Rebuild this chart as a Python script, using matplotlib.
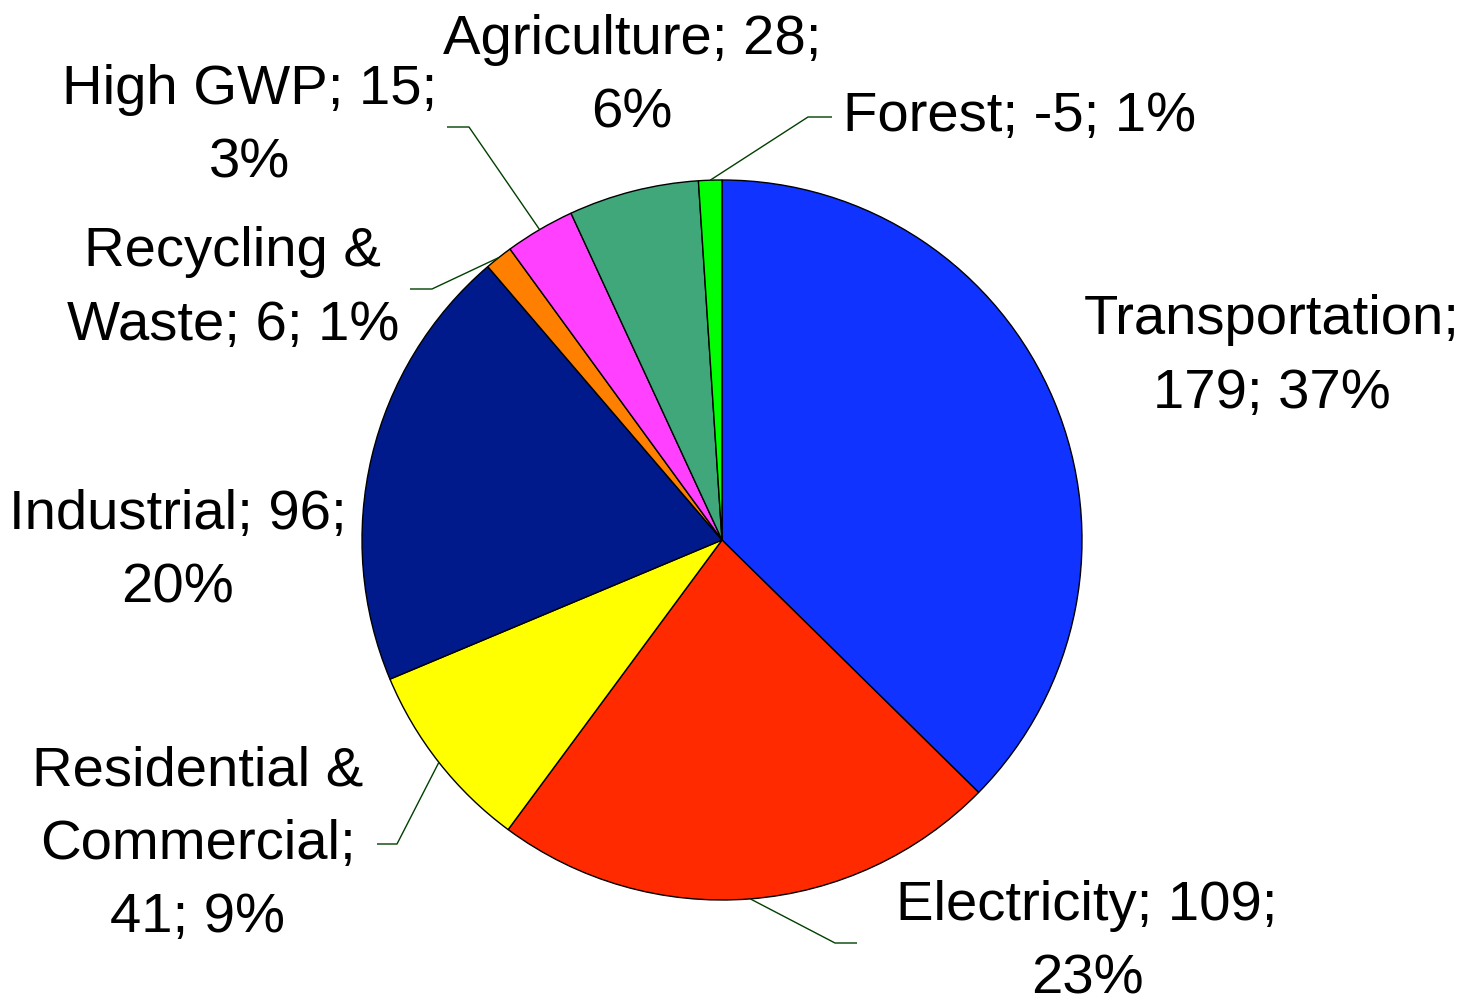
import matplotlib
matplotlib.use("Agg")
import matplotlib.pyplot as plt
import numpy as np

# ---- data (clockwise from 12 o'clock) ----
categories = ["Transportation", "Electricity", "Residential & Commercial", "Industrial",
              "Recycling & Waste", "High GWP", "Agriculture", "Forest"]
values = [179, 109, 41, 96, 6, 15, 28, -5]
colors = ["#1033FF", "#FF2A00", "#FFFF00", "#001A8C", "#FF7F00", "#FF40FF", "#40A77A", "#00FF00"]
# label line-break templates
templates = ["Transportation;\n{v}; {p}%",
             "Electricity; {v};\n{p}%",
             "Residential &\nCommercial;\n{v}; {p}%",
             "Industrial; {v};\n{p}%",
             "Recycling &\nWaste; {v}; {p}%",
             "High GWP; {v};\n{p}%",
             "Agriculture; {v};\n{p}%",
             "Forest; {v}; {p}%"]

W, H = 1467, 1000
fig = plt.figure(figsize=(W / 100, H / 100), dpi=100)
ax = fig.add_axes([0, 0, 1, 1])
ax.set_xlim(0, W)
ax.set_ylim(0, H)
ax.set_aspect("equal")
ax.axis("off")

cx, cy, R = 722, 1000 - 540, 360
sizes = np.abs(values)
wedges, _ = ax.pie(sizes, colors=colors, startangle=90, counterclock=False,
                   center=(cx, cy), radius=R, frame=True,
                   wedgeprops=dict(edgecolor="black", linewidth=1.0))
ax.set_xlim(0, W)
ax.set_ylim(0, H)
ax.axis("off")

total = sizes.sum()
pcts = [int(round(100 * s / total)) for s in sizes]

# label layout: (text center x, text center y in px-from-top, elbow x, elbow y, end x) ; None = no leader
layout = [
    (1272, 357, None, None, None),
    (1087, 943, 835, 943, 857),
    (198, 845, 397, 844, 377),
    (178, 552, None, None, None),
    (233, 289, 432, 289, 410),
    (250, 127, 469, 127, 447),
    (632, 77, None, None, None),
    (1020, 117, 808, 117, 832),
]

font = dict(family=["Liberation Sans", "DejaVu Sans"], fontsize=40.5)
for i, w in enumerate(wedges):
    txt = templates[i].format(v=values[i], p=pcts[i])
    tx, ty, ex, ey, endx = layout[i]
    ax.text(tx, H - ty, txt, ha="center", va="center", multialignment="center",
            linespacing=1.53, color="black", **font)
    if ex is not None:
        ang = np.deg2rad((w.theta1 + w.theta2) / 2)
        sx = cx + R * np.cos(ang)
        sy = cy + R * np.sin(ang)
        ax.plot([sx, ex, endx], [sy, H - ey, H - ey], color="#004000", lw=1.0,
                solid_capstyle="butt")

fig.savefig("out.png", dpi=100, facecolor="white")
